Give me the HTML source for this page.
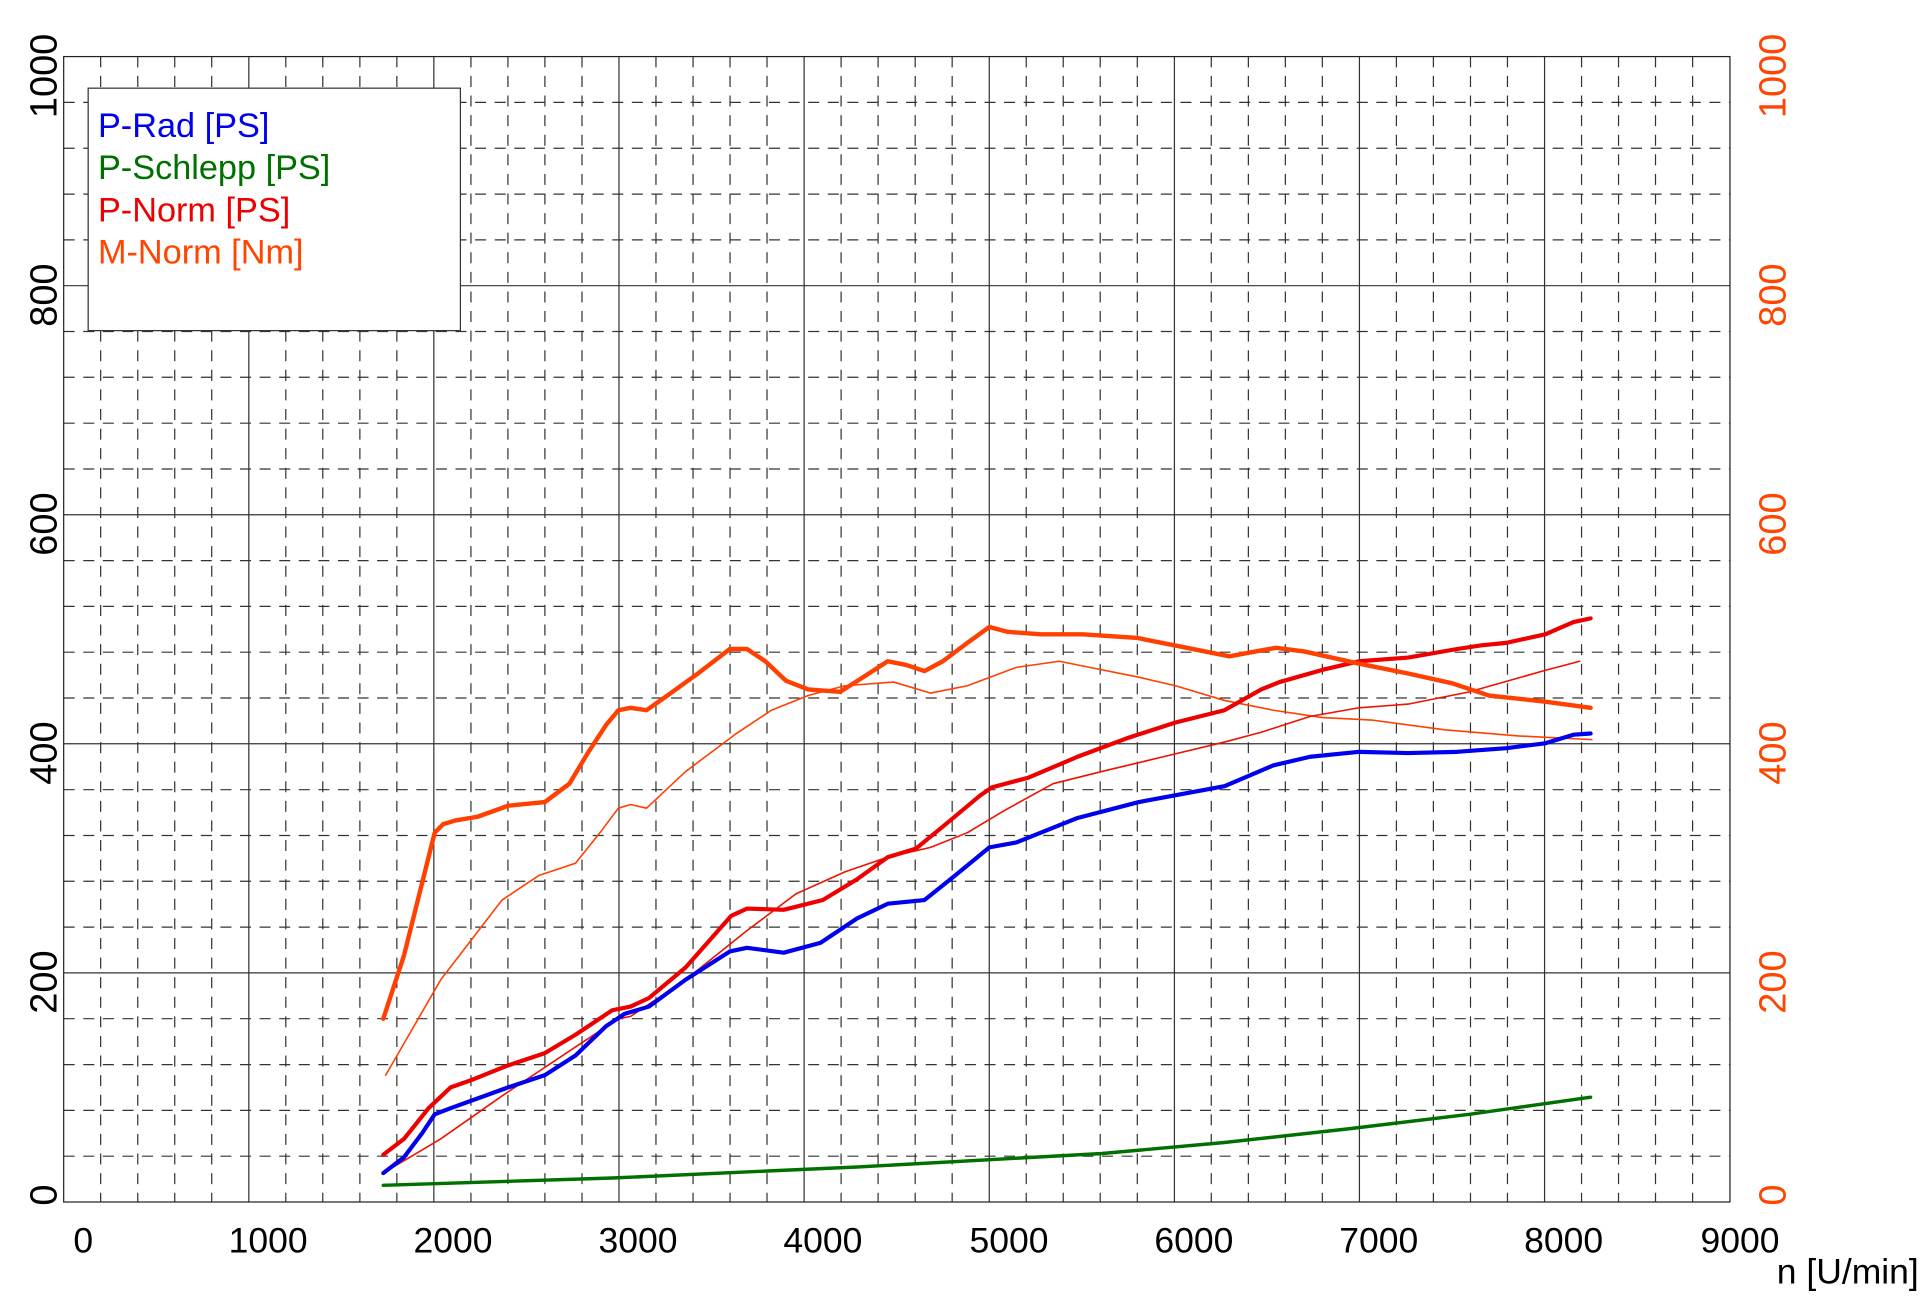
<!DOCTYPE html>
<html><head><meta charset="utf-8"><style>html,body{margin:0;padding:0;background:#fff}svg{display:block}</style></head><body>
<svg width="1920" height="1298" viewBox="0 0 1568 1060" preserveAspectRatio="none" xmlns="http://www.w3.org/2000/svg" font-family="Liberation Sans, Arial, sans-serif">
<rect width="1568" height="1060" fill="#fff"/>
<g id="grid" stroke="#333" stroke-width="1" fill="none">
<g stroke-dasharray="9,7">
<path d="M82.2 46V982M112.5 46V982M142.7 46V982M172.9 46V982M233.4 46V982M263.6 46V982M293.9 46V982M324.1 46V982M384.6 46V982M414.8 46V982M445.0 46V982M475.3 46V982M535.7 46V982M566.0 46V982M596.2 46V982M626.4 46V982M686.9 46V982M717.1 46V982M747.4 46V982M777.6 46V982M838.1 46V982M868.3 46V982M898.5 46V982M928.8 46V982M989.2 46V982M1019.5 46V982M1049.7 46V982M1079.9 46V982M1140.4 46V982M1170.6 46V982M1200.9 46V982M1231.1 46V982M1291.6 46V982M1321.8 46V982M1352.0 46V982M1382.3 46V982"/>
<path d="M52 944.2H1413M52 906.8H1413M52 869.4H1413M52 831.9H1413M52 757.1H1413M52 719.7H1413M52 682.3H1413M52 644.9H1413M52 570.0H1413M52 532.6H1413M52 495.2H1413M52 457.8H1413M52 383.0H1413M52 345.6H1413M52 308.1H1413M52 270.7H1413M52 195.9H1413M52 158.5H1413M52 121.1H1413M52 83.6H1413"/>
</g>
<path d="M203.2 46V982M354.3 46V982M505.5 46V982M656.7 46V982M807.9 46V982M959.1 46V982M1110.2 46V982M1261.4 46V982"/>
<path d="M52 794.5H1413M52 607.4H1413M52 420.4H1413M52 233.3H1413"/>
<rect x="52" y="46.2" width="1360.8" height="935.4" stroke="#222"/>
</g>
<rect x="72" y="72" width="304" height="198" fill="#fff" stroke="#333" stroke-width="1"/>
<g font-size="28">
<text x="80" y="112" fill="#0000ee">P-Rad [PS]</text>
<text x="80" y="146" fill="#007000">P-Schlepp [PS]</text>
<text x="80" y="181" fill="#ee0000">P-Norm [PS]</text>
<text x="80" y="215" fill="#ff4500">M-Norm [Nm]</text>
</g>
<g fill="none" stroke-linejoin="round" stroke-linecap="round">
<polyline stroke="#ff4000" stroke-width="1.3" points="315,878 360,800 410,735 440,715 470,705 490,680 505,660 515,657 528,660 560,630 600,600 630,580 660,568 690,560 730,557 760,566 790,560 830,545 865,540 890,545 930,553 960,560 1000,572 1040,580 1080,586 1120,588 1180,596 1240,601 1300,604"/>
<polyline stroke="#ee1100" stroke-width="1.3" points="313,958 360,930 410,895 470,855 505,832 515,830 560,800 610,760 650,730 690,712 725,700 760,692 790,680 820,662 860,640 900,630 950,618 1000,606 1030,598 1070,585 1110,578 1150,575 1200,565 1260,548 1290,540"/>
<polyline stroke="#007000" stroke-width="2.8" points="313,968 500,962 700,953 900,942 1000,933 1100,922 1200,910 1299,896"/>
<polyline stroke="#0000ee" stroke-width="3.4" points="313,958 330,945 345,925 355,910 368,905 415,888 445,878 470,862 495,838 510,828 530,822 560,800 596,777 610,774 640,778 670,770 700,750 725,738 755,735 780,715 808,692 830,688 880,668 930,655 1000,642 1040,625 1070,618 1110,614 1150,615 1190,614 1230,611 1262,607 1285,600 1299,599"/>
<polyline stroke="#ee0000" stroke-width="3.4" points="313,943 330,930 350,905 368,888 385,882 415,870 445,860 470,845 500,825 515,822 530,815 560,790 597,748 610,742 640,743 672,735 700,718 725,700 748,693 770,675 800,650 810,643 840,635 880,618 920,603 960,590 1000,580 1030,563 1045,557 1080,547 1110,540 1150,537 1190,530 1210,527 1230,525 1262,518 1285,508 1299,505"/>
<polyline stroke="#ff4000" stroke-width="3.6" points="313,832 330,780 345,720 355,680 362,673 372,670 390,667 415,658 445,655 465,640 480,615 495,592 505,580 515,578 528,580 545,568 570,550 596,530 610,530 625,540 642,556 660,563 686,565 705,553 725,540 740,543 755,548 770,540 790,525 808,512 823,516 850,518 884,518 929,521 959,527 1004,536 1020,533 1042,529 1065,532 1110,542 1150,550 1186,558 1216,568 1262,573 1299,578"/>
</g>
<g font-size="31" fill="#000" text-anchor="middle">
<text transform="translate(46,62) rotate(-90)">1000</text>
<text transform="translate(46,241) rotate(-90)">800</text>
<text transform="translate(46,428) rotate(-90)">600</text>
<text transform="translate(46,615) rotate(-90)">400</text>
<text transform="translate(46,802) rotate(-90)">200</text>
<text transform="translate(46,976) rotate(-90)">0</text>
</g>
<g font-size="31" fill="#ff4500" text-anchor="middle">
<text transform="translate(1458,62) rotate(-90)">1000</text>
<text transform="translate(1458,241) rotate(-90)">800</text>
<text transform="translate(1458,428) rotate(-90)">600</text>
<text transform="translate(1458,615) rotate(-90)">400</text>
<text transform="translate(1458,802) rotate(-90)">200</text>
<text transform="translate(1458,976) rotate(-90)">0</text>
</g>
<g font-size="29" fill="#000" text-anchor="middle">
<text x="68" y="1023">0</text>
<text x="219" y="1023">1000</text>
<text x="370" y="1023">2000</text>
<text x="521" y="1023">3000</text>
<text x="672" y="1023">4000</text>
<text x="824" y="1023">5000</text>
<text x="975" y="1023">6000</text>
<text x="1126" y="1023">7000</text>
<text x="1277" y="1023">8000</text>
<text x="1421" y="1023">9000</text>
</g>
<text x="1451" y="1048" font-size="29" fill="#000">n [U/min]</text>
</svg>
</body></html>
